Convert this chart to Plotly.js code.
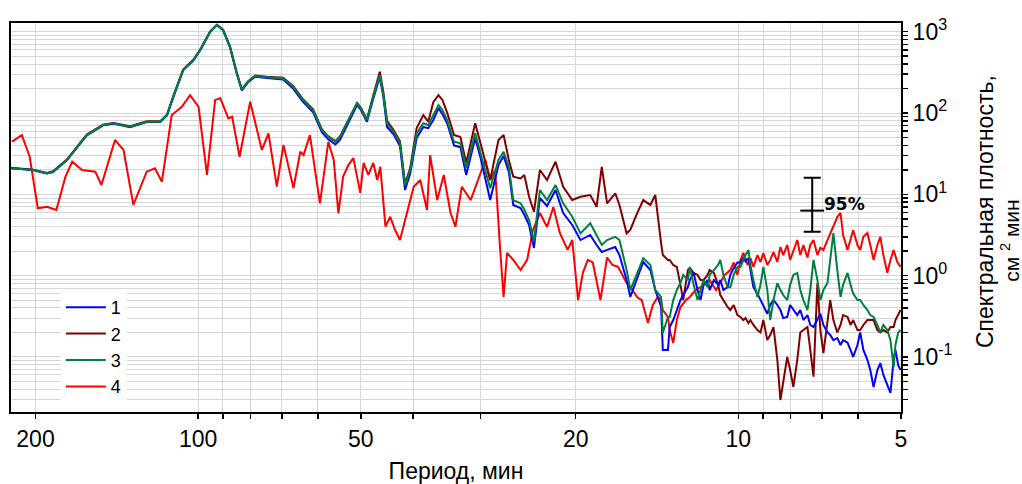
<!DOCTYPE html>
<html>
<head>
<meta charset="utf-8">
<script src="https://cdn.plot.ly/plotly-3.0.1.min.js"></script>
<style>html,body{margin:0;padding:0;background:#fff;}#chart{width:1022px;height:484px;}</style>
</head>
<body>
<div id="chart"></div>
<script>
// Period (min) grid shared by curves 1-3
const periodsA = [222,202,190.5,185.6,175,160.7,150,143.6,133.6,124.5,
117.5,114.2,111.2,106.6,102,99.1,95,92.3,89.9,87.3,
84.8,83,80.8,78.4,74.6,69.6,66.7,64,61.3,59,
57.5,55.7,54.6,53.0,50.8,50.0,48.7,47.4,46.1,45.4,
44.7,43.5,42.3,41.4,40.5,39.4,38.3,37.5,36.7,35.9,
35.3,34.6,33.6,32.7,31.9,30.7,30.0,28.8,27.8,27.2,
26.6,26.1,25.3,24.9,24.4,23.9,23.3,22.6,21.8,21.1,
20.3,19.6,18.8,18.3,17.9,17.5,16.9,16.6,16.1,15.85,
15.45,15.0,14.55,14.25,13.9,13.8,13.5,13.4,13.2,13.0,
12.8,12.65,12.4,12.3,12.1,11.9,11.75,11.6,11.4,11.3,
11.1,10.9,10.8,10.66,10.47,10.35,10.2,10.04,9.91,9.79,
9.70,9.58,9.50,9.38,9.22,9.10,8.99,8.84,8.73,8.61,
8.47,8.36,8.26,8.12,8.02,7.91,7.78,7.68,7.58,7.45,
7.36,7.26,7.14,7.05,6.96,6.84,6.76,6.67,6.56,6.47,
6.40,6.28,6.20,6.13,6.02,5.95,5.87,5.77,5.70,5.62,
5.53,5.46,5.39,5.30,5.23,5.16,5.12,5.06,5.01];

// Curve 1 (blue)
const psd1 = [20.9,19.9,18.0,18.8,26.2,53,70.5,74,67,77.5,
77.5,93,156,335,445,590,990,1215,1040,645,
305,190,240,280,270,258,200,138,103,58,
48,41,47,71,125,110,78,150,280,158,
67.3,55,39.3,11.3,18,49.3,67.3,65,82,115,
97,75,40,38,17.3,49.3,28,8.5,22.9,29.6,
18.8,7.4,6.78,5.6,4.19,2.19,9.0,7.18,11.3,5.89,
4.19,2.74,3.16,2.38,1.95,2.07,2.25,1.79,0.88,0.546,
0.85,1.47,1.17,0.665,0.411,0.122,0.122,0.233,0.284,0.377,
0.5,0.577,0.724,0.88,1.08,0.665,0.5,0.77,0.88,0.665,
0.88,0.77,0.88,0.665,0.72,1.02,1.24,1.45,1.45,1.64,
1.5,1.64,1.17,0.72,0.6,0.5,0.435,0.34,0.435,0.5,
0.435,0.377,0.3,0.31,0.435,0.377,0.327,0.377,0.284,0.327,
0.247,0.233,0.284,0.34,0.247,0.2,0.186,0.161,0.17,0.14,
0.161,0.15,0.122,0.1,0.14,0.2,0.122,0.092,0.069,0.0427,
0.069,0.084,0.06,0.045,0.036,0.092,0.122,0.079,0.069];

// Curve 2 (maroon)
const psd2 = [21.2,20.1,18.3,19.2,26.8,54.5,72,75.5,69,79,
79,95,160,342,455,605,1010,1215,1060,660,
312,195,247,290,280,272,215,148,112,63,
52,45,52,76,133,117,84,165,322,180,
80,62,45,13.5,21,65.4,94.4,78.2,136,166,
145,101,53.6,50.7,24.3,74.7,42.4,15.0,46.6,53.6,
26.4,16.5,15.7,17.3,9.33,6.1,19.9,15.0,25.2,12.4,
8.5,9.33,9.8,7.03,21.8,7.74,10.3,7.4,3.31,3.64,
5.56,8.5,7.4,9.8,2.51,1.79,1.56,1.56,1.35,1.28,
0.77,0.5,1.17,1.24,1.08,1.02,0.88,0.88,1.02,1.17,
1.08,0.77,0.577,0.5,0.411,0.377,0.435,0.327,0.31,0.284,
0.3,0.26,0.284,0.247,0.214,0.2,0.284,0.161,0.186,0.233,
0.092,0.0295,0.052,0.1,0.069,0.0427,0.092,0.2,0.214,0.233,
0.122,0.057,0.81,0.214,0.111,0.284,0.5,0.284,0.2,0.247,
0.327,0.31,0.247,0.284,0.214,0.214,0.247,0.284,0.284,0.284,
0.214,0.2,0.214,0.2,0.233,0.233,0.284,0.34,0.377];

// Curve 3 (green)
const psd3 = [20.9,19.9,18.1,19.0,26.4,53.6,71,74.6,67.8,78.1,
78.1,94.4,158,338,449,596,1000,1208,1049,653,
308,192,243,285,275,267,210,145,109,61.8,
51,44.4,51,75.3,131.5,115,82,158,293,166,
75.3,58.9,42.8,13.0,19.9,56.3,74.7,71.1,94.4,125,
109,82,44.4,42.4,20.9,56.3,31.9,11.9,26.4,33.4,
21.8,8.5,7.74,6.5,4.83,2.61,11.3,8.5,13.0,7.74,
5.3,3.31,4.4,3.16,2.38,2.74,3.0,2.74,1.17,0.665,
1.02,1.64,1.35,0.665,0.546,0.197,0.31,0.31,0.5,0.665,
0.81,1.02,0.88,1.28,0.77,0.5,0.665,0.88,0.72,1.02,
1.17,1.35,1.56,1.02,0.72,0.72,1.02,1.28,1.28,1.56,
1.79,2.07,1.35,0.88,0.546,0.77,1.28,0.665,0.284,0.5,
0.81,0.665,0.577,0.5,0.77,1.02,1.08,0.665,0.5,0.377,
0.665,1.56,0.88,0.5,0.665,0.81,1.56,3.33,1.17,0.546,
0.77,1.08,0.77,0.6,0.5,0.5,0.435,0.377,0.327,0.31,
0.247,0.2,0.247,0.214,0.161,0.075,0.14,0.2,0.214];

// Curve 4 (red)
const periods4 = [221,212,205,198,190.5,183,176,171,164,155,
151,142.5,137.4,131.8,124.5,120.2,116.7,111.9,107.2,103.5,
99.8,96.3,93,91,87.9,86.5,83.8,80.1,76.2,74.1,
71.5,69.5,66.6,64.7,63.8,62.1,59.5,57.4,56.1,55,
53.9,52.7,51.6,50.7,50.1,49.4,48.4,47.4,46.6,46.0,
45.0,44.1,43.2,42.3,41.1,39.9,38.8,37.7,37.2,36.1,
35.1,34.1,33.4,32.5,31.3,30.0,29.4,28.8,28.2,27.6,
27.2,26.8,26.1,25.3,24.6,24.0,23.3,22.6,22.0,21.4,
20.7,20.3,19.8,19.4,19.0,18.6,18.0,17.5,17.1,16.7,
16.4,16.1,15.7,15.4,15.1,14.7,14.4,14.1,13.9,13.8,
13.5,13.4,13.2,13.0,12.8,12.5,12.3,12.0,11.75,11.5,
11.3,11.0,10.8,10.6,10.35,10.2,10.04,9.91,9.79,9.62,
9.50,9.38,9.22,9.10,8.99,8.84,8.73,8.61,8.47,8.36,
8.26,8.12,8.02,7.91,7.78,7.68,7.58,7.45,7.36,7.26,
7.14,7.05,6.96,6.84,6.76,6.67,6.56,6.47,6.40,6.28,
6.20,6.13,6.02,5.95,5.87,5.77,5.70,5.62,5.53,5.46,
5.39,5.30,5.23,5.16,5.08,5.01];
const psd4 = [44.4,53.6,29,6.73,7.03,6.4,16.5,25.2,19.9,19.0,
13.0,46.6,35.1,7.4,19.0,20.9,14.3,94.4,119,166,
119,17.3,145,152,86,90,29,138,35.1,56.3,
12.4,40.4,11.9,33.4,30.4,53.6,7.74,44.4,26.4,5.84,
16.5,22.9,27.9,15,10.4,24.3,17.3,24.3,15,21.8,
4.0,5.3,3.64,2.74,5.89,12.4,15,6.4,30.4,8.5,
17.3,5.89,4.0,12.4,8.5,18.3,26.4,15,19.9,2.07,
0.546,1.9,1.56,1.17,1.56,3.64,5.89,3.96,6.98,3.34,
2.07,2.74,0.5,1.08,1.56,1.45,0.5,1.67,1.35,1.28,
1.02,0.81,0.665,0.546,0.5,0.261,0.435,0.546,0.5,0.377,
0.31,0.214,0.148,0.284,0.411,0.5,0.546,0.665,0.72,0.81,
0.88,0.665,0.81,1.02,1.17,1.45,1.02,1.56,1.9,1.35,
1.64,1.28,1.79,1.47,1.9,1.35,1.56,1.95,1.47,2.25,
1.79,2.38,1.56,2.07,2.74,1.79,2.38,1.67,2.38,2.74,
1.79,2.2,2.07,2.74,3.34,4.19,5.26,5.89,3.16,2.07,
2.74,3.64,2.38,2.07,3.0,3.34,2.38,1.56,2.38,3.0,
1.79,1.08,1.56,2.07,1.47,1.28];

// 95% confidence marker
const ciPeriod = [7.3];
const ciCenter = [6.3];
const ciUpper = [16.0];
const ciLower = [3.47];

// Legend labels
const seriesNames = ['1','2','3','4'];

// Axis ticks (labelled) and minor gridline positions
const xTickVals = [200,100,50,20,10,5];
const xTickText = ['200','100','50','20','10','5'];
const xMinorVals = [90,80,70,60,40,30,9,8,7,6];
const yTickVals = [0.1,1,10,100,1000];
const yTickText = ['10<sup>-1</sup>','10<sup>0</sup>','10<sup>1</sup>','10<sup>2</sup>','10<sup>3</sup>'];
const yMinorVals = [0.03,0.04,0.05,0.06,0.07,0.08,0.09,
  0.2,0.3,0.4,0.5,0.6,0.7,0.8,0.9,
  2,3,4,5,6,7,8,9,
  20,30,40,50,60,70,80,90,
  200,300,400,500,600,700,800,900];

const FONT = 'Liberation Sans, Arial, sans-serif';
const lw = 2;
const GRID = '#d6d6d6';

const traces = [
  {x: periods4, y: psd4, name: seriesNames[3], mode: 'lines', line: {color: '#ff0000', width: lw}, legendrank: 4},
  {x: periodsA, y: psd2, name: seriesNames[1], mode: 'lines', line: {color: '#800000', width: lw}, legendrank: 2},
  {x: periodsA, y: psd1, name: seriesNames[0], mode: 'lines', line: {color: '#0000ff', width: lw}, legendrank: 1},
  {x: periodsA, y: psd3, name: seriesNames[2], mode: 'lines', line: {color: '#008040', width: lw}, legendrank: 3},
  {x: ciPeriod, y: ciCenter, mode: 'markers', showlegend: false,
   marker: {symbol: 'line-ew', size: 17, color: '#000', line: {width: 2, color: '#000'}},
   error_y: {type: 'data', symmetric: false,
     array: ciUpper.map((u,i) => u - ciCenter[i]),
     arrayminus: ciLower.map((l,i) => ciCenter[i] - l),
     color: '#000', thickness: 2, width: 8.5}}
];

const layout = {
  width: 1022, height: 484,
  margin: {l: 11, r: 121, t: 23, b: 72},
  paper_bgcolor: '#fff', plot_bgcolor: '#fff',
  font: {family: FONT, color: '#000'},
  showlegend: true,
  legend: {x: 0.056, y: 0.018, xanchor: 'left', yanchor: 'bottom',
    bgcolor: '#fff', borderwidth: 0, font: {size: 18, family: FONT},
    tracegroupgap: 0, itemwidth: 40},
  xaxis: {
    type: 'log', range: [Math.log10(222), Math.log10(5)],
    tickmode: 'array', tickvals: xTickVals, ticktext: xTickText,
    ticks: 'outside', ticklen: 5, tickwidth: 1.5, tickcolor: '#000',
    showgrid: true, gridcolor: GRID, gridwidth: 1,
    minor: {tickmode: 'array', tickvals: xMinorVals, ticks: 'outside', ticklen: 5,
      tickwidth: 1.5, tickcolor: '#000', showgrid: true, gridcolor: GRID, gridwidth: 1},
    showline: true, mirror: true, linecolor: '#000', linewidth: 2,
    zeroline: false,
    tickfont: {size: 23, family: FONT},
    title: {text: 'Период, мин', font: {size: 23, family: FONT}, standoff: 12}
  },
  yaxis: {
    type: 'log', side: 'right', range: [Math.log10(0.021), Math.log10(1280)],
    tickmode: 'array', tickvals: yTickVals, ticktext: yTickText,
    ticks: 'outside', ticklen: 5, tickwidth: 1.5, tickcolor: '#000',
    showgrid: true, gridcolor: GRID, gridwidth: 1,
    minor: {tickmode: 'array', tickvals: yMinorVals, ticks: 'outside', ticklen: 5,
      tickwidth: 1.5, tickcolor: '#000', showgrid: true, gridcolor: GRID, gridwidth: 1},
    showline: true, mirror: true, linecolor: '#000', linewidth: 2,
    zeroline: false,
    tickfont: {size: 23, family: FONT}
  },
  annotations: [
    {xref: 'x', yref: 'y', x: Math.log10(ciPeriod[0]), y: Math.log10(ciCenter[0]),
     text: '<b>95%</b>', showarrow: false, xanchor: 'left', yanchor: 'middle',
     xshift: 10, yshift: 7, font: {size: 17, family: 'DejaVu Sans, sans-serif', color: '#000'}},
    {xref: 'paper', yref: 'paper', x: 1.0944, y: 0.514, text: 'Спектральная плотность,',
     textangle: -90, showarrow: false, xanchor: 'center', yanchor: 'middle',
     font: {size: 23, family: FONT, color: '#000'}},
    {xref: 'paper', yref: 'paper', x: 1.1225, y: 0.44, text: 'см <sup>2</sup> мин',
     textangle: -90, showarrow: false, xanchor: 'center', yanchor: 'middle',
     font: {size: 21, family: FONT, color: '#000'}}
  ]
};

Plotly.newPlot('chart', traces, layout, {staticPlot: true, displayModeBar: false});
</script>
</body>
</html>
